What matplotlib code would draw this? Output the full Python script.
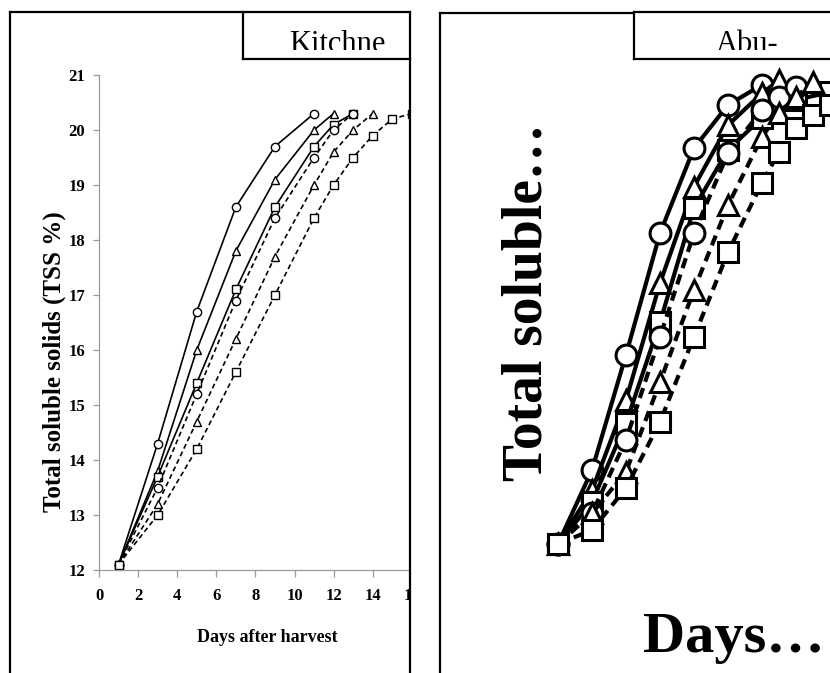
import matplotlib

matplotlib.use("Agg")
import matplotlib.pyplot as plt
from matplotlib.lines import Line2D
from matplotlib.patches import Rectangle
from matplotlib.transforms import Bbox

W, H = 830, 673
SERIF = "Liberation Serif"
GREY = "#9a9a9a"

# ---- left panel: Kitchne ----
k_ticks_x = [0, 2, 4, 6, 8, 10, 12, 14, 16]
k_ticks_y = [12, 13, 14, 15, 16, 17, 18, 19, 20, 21]

k_days_sc = [1, 3, 5, 7, 9, 11]
k_tss_sc = [12.1, 14.3, 16.7, 18.6, 19.7, 20.3]
k_days_st = [1, 3, 5, 7, 9, 11, 12]
k_tss_st = [12.1, 13.8, 16.0, 17.8, 19.1, 20.0, 20.3]
k_days_ss = [1, 3, 5, 7, 9, 11, 12, 13]
k_tss_ss = [12.1, 13.7, 15.4, 17.1, 18.6, 19.7, 20.1, 20.3]
k_days_dc = [1, 3, 5, 7, 9, 11, 12, 13]
k_tss_dc = [12.1, 13.5, 15.2, 16.9, 18.4, 19.5, 20.0, 20.3]
k_days_dt = [1, 3, 5, 7, 9, 11, 12, 13, 14]
k_tss_dt = [12.1, 13.2, 14.7, 16.2, 17.7, 19.0, 19.6, 20.0, 20.3]
k_days_ds = [1, 3, 5, 7, 9, 11, 12, 13, 14, 15, 16]
k_tss_ds = [12.1, 13.0, 14.2, 15.6, 17.0, 18.4, 19.0, 19.5, 19.9, 20.2, 20.3]

# ---- right panel: Abu- ----
a_days_sc = [1, 3, 5, 7, 9, 11, 13]
a_tss_sc = [12.1, 13.42, 15.48, 17.65, 19.17, 19.94, 20.30]
a_days_st = [1, 3, 5, 7, 9, 11, 13, 14]
a_tss_st = [12.1, 13.06, 14.67, 16.76, 18.48, 19.58, 20.15, 20.38]
a_days_ss = [1, 3, 5, 7, 9, 11, 13, 15, 17]
a_tss_ss = [12.1, 12.85, 14.26, 16.06, 18.10, 19.14, 19.71, 20.03, 20.17]
a_days_dc = [1, 3, 5, 7, 9, 11, 13, 14, 15]
a_tss_dc = [12.1, 12.65, 13.96, 15.80, 17.65, 19.08, 19.85, 20.08, 20.26]
a_days_dt = [1, 3, 5, 7, 9, 11, 13, 14, 15, 16]
a_tss_dt = [12.1, 12.65, 13.39, 14.99, 16.64, 18.15, 19.37, 19.80, 20.08, 20.35]
a_days_ds = [1, 3, 5, 7, 9, 11, 13, 14, 15, 16, 17]
a_tss_ds = [12.1, 12.35, 13.10, 14.28, 15.80, 17.31, 18.55, 19.10, 19.53, 19.76, 19.94]


def fx(x):
    return x / W


def fy(y):
    return 1 - y / H


def series(panel):
    g = globals()
    out = []
    for key, mk, ls in [("sc", "o", "-"), ("st", "^", "-"), ("ss", "s", "-"),
                        ("dc", "o", "--"), ("dt", "^", "--"), ("ds", "s", "--")]:
        out.append((g[f"{panel}_days_{key}"], g[f"{panel}_tss_{key}"], mk, ls))
    return out


fig = plt.figure(figsize=(W / 100, H / 100), dpi=100, facecolor="white")

# left chart
axL = fig.add_axes([fx(99), fy(570), (411.8 - 99) / W, (570 - 75) / H])
for x, y, mk, ls in series("k"):
    ln, = axL.plot(x, y, color="black", lw=1.2, ls=ls, marker=mk, ms=6,
                   mfc="white", mec="black", mew=1.0)
    if ls == "--":
        ln.set_dashes((3, 2))
axL.set_xlim(0, 16)
axL.set_ylim(12, 21)
axL.set_xticks(k_ticks_x)
axL.set_yticks(k_ticks_y)
for s in ("top", "right"):
    axL.spines[s].set_visible(False)
for s in ("left", "bottom"):
    axL.spines[s].set_color(GREY)
    axL.spines[s].set_linewidth(0.9)
axL.tick_params(axis="x", length=5, width=0.9, color=GREY, pad=8)
axL.tick_params(axis="y", length=4, width=0.9, color=GREY, pad=6)
for lbl in axL.get_xticklabels() + axL.get_yticklabels():
    lbl.set_fontfamily(SERIF)
    lbl.set_fontweight("bold")
    lbl.set_fontsize(12)

fig.text(fx(61), fy(362), "Total soluble solids (TSS %)", rotation=90,
         rotation_mode="anchor", ha="center", va="baseline",
         family=SERIF, weight="bold", fontsize=18)
fig.text(fx(267), fy(638), "Days after harvest", ha="center", va="center",
         family=SERIF, weight="bold", fontsize=13)

# right chart
axR = fig.add_axes([fx(541), fy(577.6), 297.5 / W, (577.6 - 45.6) / H])
for x, y, mk, ls in series("a"):
    ln, = axR.plot(x, y, color="black", lw=3, ls=ls, marker=mk, ms=15,
                   mfc="white", mec="black", mew=2.2, clip_on=False)
    if ls == "--":
        ln.set_dashes((2.5, 1.6))
axR.set_xlim(0, 17.5)
axR.set_ylim(11.5, 21)
axR.axis("off")

fig.text(fx(541), fy(302), "Total soluble…", rotation=90,
         rotation_mode="anchor", ha="center", va="baseline",
         family=SERIF, weight="bold", fontsize=40)
fig.text(fx(734), fy(652), "Days…", ha="center", va="baseline",
         family=SERIF, weight="bold", fontsize=42)

# gap between the two panels hides the cut-off edge of the left chart
fig.add_artist(Rectangle((fx(410.5), 0), 28 / W, 1, transform=fig.transFigure,
                         facecolor="white", edgecolor="none", zorder=5))


def frame(x0, y0, x1, y1):
    fig.add_artist(Line2D([fx(x0), fx(x1)], [fy(y0), fy(y1)], color="black",
                          lw=1.6, transform=fig.transFigure, zorder=6,
                          solid_capstyle="projecting"))


# left frame + title box
frame(9.5, 12, 9.5, 673)
frame(9.5, 12, 410, 12)
frame(410, 12, 410, 673)
frame(243, 12, 243, 59)
frame(243, 59, 410, 59)
# right frame + title box
frame(439.5, 13, 439.5, 673)
frame(439.5, 13, 634, 13)
frame(634, 12, 634, 59)
frame(634, 12, 830, 12)
frame(634, 59, 830, 59)

for label, cx, x0, x1 in [("Kitchne", 337, 244, 409), ("Abu-", 747, 635, 830)]:
    t = fig.text(fx(cx), fy(52), label, ha="center", va="baseline",
                 family=SERIF, fontsize=22, zorder=7)
    t.set_clip_box(Bbox.from_extents(x0, H - 50, x1, H - 13))
    t.set_clip_on(True)

fig.savefig("out.png", dpi=100, facecolor="white")
